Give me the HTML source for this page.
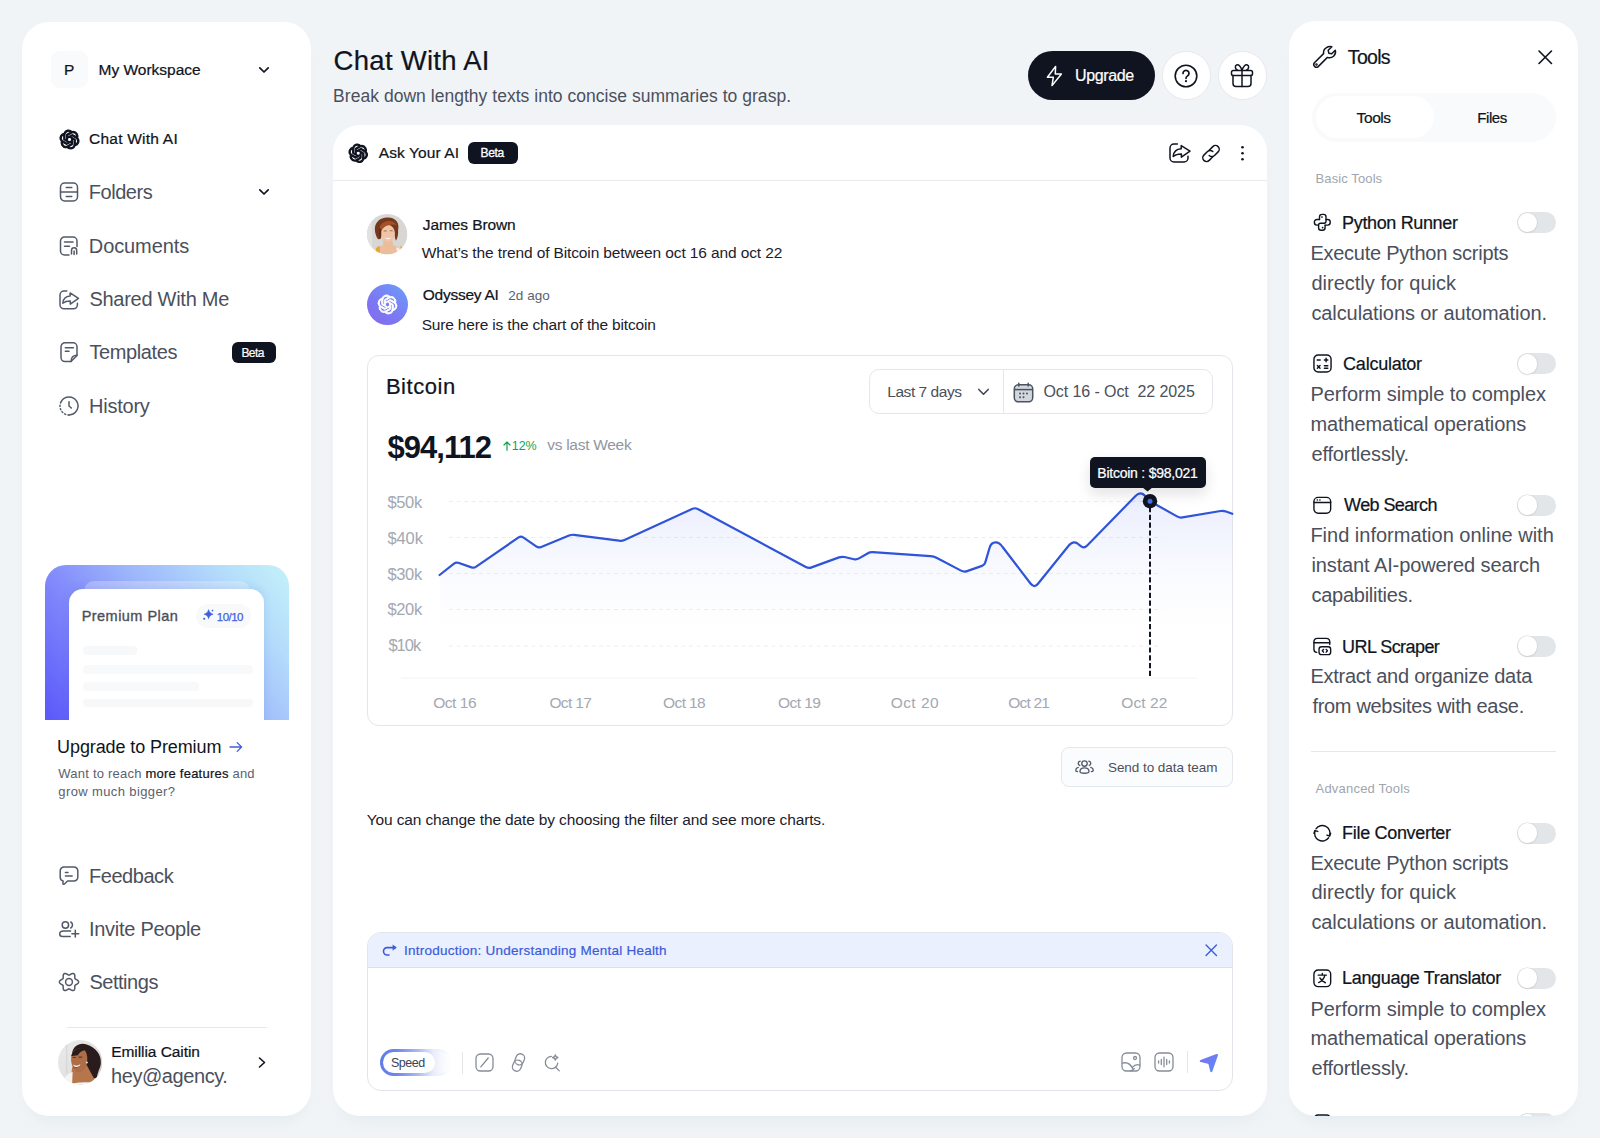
<!DOCTYPE html>
<html lang="en">
<head>
<meta charset="utf-8">
<title>Chat With AI</title>
<style>
*{box-sizing:border-box;margin:0;padding:0}
html,body{width:1600px;height:1138px;overflow:hidden}
body{background:#f1f4f7;font-family:"Liberation Sans",sans-serif;color:#0f1420;position:relative}
.abs{position:absolute}
.t{position:absolute;white-space:nowrap;line-height:1;display:inline-block}
.panel{position:absolute;background:#fff;border-radius:27px;box-shadow:0 12px 16px -8px rgba(170,198,208,.20)}
.g{color:#4b505c}
.m{-webkit-text-stroke:.22px currentColor}
.lg{color:#a3a8b1}
svg{position:absolute;overflow:visible}
.ic{fill:none;stroke:#525a69;stroke-width:1.5;stroke-linecap:round;stroke-linejoin:round}
.icd{fill:none;stroke:#0f1420;stroke-width:1.5;stroke-linecap:round;stroke-linejoin:round}
.badge{position:absolute;background:#0f1420;border-radius:6px}
.tog{position:absolute;width:38.800px;height:21px;border-radius:11px;background:#e3e6e8}
.tog:after{content:"";position:absolute;left:.8px;top:.8px;width:19.400px;height:19.400px;border-radius:50%;background:#fff;box-shadow:0 0 0 .6px #d2d5d9,0 1px 2px rgba(0,0,0,.10)}
</style>
<style id="fit">
#l_p{transform:translate(0.00px,-13.50px);letter-spacing:0.000px}
#l_ws{transform:translate(0.62px,-13.50px);letter-spacing:-0.019px}
#l_chat{transform:translate(0.03px,-13.39px);letter-spacing:0.231px}
#l_fold{transform:translate(-0.20px,-17.39px);letter-spacing:-0.462px}
#l_doc{transform:translate(-0.20px,-16.69px);letter-spacing:-0.094px}
#l_share{transform:translate(0.40px,-16.69px);letter-spacing:-0.267px}
#l_tpl{transform:translate(0.40px,-17.00px);letter-spacing:-0.392px}
#l_beta{transform:translate(-0.10px,-10.00px);letter-spacing:-0.539px}
#l_hist{transform:translate(0.00px,-17.00px);letter-spacing:-0.238px}
#l_pp{transform:translate(0.67px,-12.00px);letter-spacing:0.461px}
#l_1010{transform:translate(-0.18px,-9.50px);letter-spacing:-0.541px}
#l_up{transform:translate(-0.90px,-15.00px);letter-spacing:-0.105px}
#l_want1{transform:translate(0.35px,-11.00px);letter-spacing:0.222px}
#l_want2{transform:translate(0.35px,-10.69px);letter-spacing:0.381px}
#l_fb{transform:translate(0.00px,-17.50px);letter-spacing:-0.452px}
#l_inv{transform:translate(0.00px,-16.80px);letter-spacing:-0.283px}
#l_set{transform:translate(0.40px,-17.39px);letter-spacing:-0.467px}
#l_name{transform:translate(0.22px,-13.00px);letter-spacing:-0.066px}
#l_mail{transform:translate(0.00px,-17.00px);letter-spacing:-0.419px}
#m_title{transform:translate(0.62px,-23.00px);letter-spacing:0.270px}
#m_sub{transform:translate(-0.38px,-14.19px);letter-spacing:0.031px}
#m_upg{transform:translate(0.50px,-13.39px);letter-spacing:-0.354px}
#m_ask{transform:translate(0.82px,-13.39px);letter-spacing:0.089px}
#m_beta{transform:translate(0.60px,-10.39px);letter-spacing:-0.330px}
#c_jb{transform:translate(0.82px,-13.00px);letter-spacing:-0.098px}
#c_q{transform:translate(-0.18px,-12.59px);letter-spacing:-0.122px}
#c_od{transform:translate(0.82px,-12.59px);letter-spacing:-0.259px}
#c_ago{transform:translate(0.32px,-10.59px);letter-spacing:0.036px}
#c_sure{transform:translate(0.63px,-12.59px);letter-spacing:-0.170px}
#c_send{transform:translate(0.43px,-11.19px);letter-spacing:-0.050px}
#c_you{transform:translate(0.82px,-13.19px);letter-spacing:-0.134px}
#h_btc{transform:translate(-1.10px,-18.00px);letter-spacing:0.541px}
#h_price{transform:translate(0.45px,-26.09px);letter-spacing:-0.966px}
#h_pct{transform:translate(-0.22px,-10.39px);letter-spacing:-0.060px}
#h_vs{transform:translate(0.23px,-13.39px);letter-spacing:-0.283px}
#h_l7{transform:translate(0.23px,-13.00px);letter-spacing:-0.448px}
#h_date{transform:translate(0.40px,-13.00px);letter-spacing:-0.078px}
#h_tip{transform:translate(0.30px,-12.00px);letter-spacing:-0.235px}
#y5{transform:translate(0.38px,-14.19px);letter-spacing:-0.324px}
#y4{transform:translate(0.38px,-14.19px);letter-spacing:-0.074px}
#y3{transform:translate(0.38px,-13.59px);letter-spacing:-0.324px}
#y2{transform:translate(0.38px,-14.39px);letter-spacing:-0.324px}
#y1{transform:translate(-0.62px,-14.00px);letter-spacing:-0.949px}
#x16{transform:translate(-0.77px,-13.00px);letter-spacing:-0.477px}
#x17{transform:translate(0.42px,-13.00px);letter-spacing:-0.630px}
#x18{transform:translate(0.03px,-13.00px);letter-spacing:-0.600px}
#x19{transform:translate(0.03px,-13.00px);letter-spacing:-0.554px}
#x20{transform:translate(0.63px,-13.00px);letter-spacing:0.463px}
#x21{transform:translate(0.23px,-13.00px);letter-spacing:-0.784px}
#x22{transform:translate(0.22px,-13.00px);letter-spacing:0.100px}
#i_intro{transform:translate(-0.38px,-11.39px);letter-spacing:0.240px}
#i_speed{transform:translate(-0.03px,-10.50px);letter-spacing:-0.466px}
#r_title{transform:translate(0.83px,-16.39px);letter-spacing:-0.701px}
#r_tab1{transform:translate(0.62px,-12.80px);letter-spacing:-0.428px}
#r_tab2{transform:translate(0.25px,-12.80px);letter-spacing:-0.414px}
#r_basic{transform:translate(-0.45px,-11.09px);letter-spacing:0.106px}
#r_adv{transform:translate(-0.45px,-11.39px);letter-spacing:0.205px}
#r_py{transform:translate(-0.40px,-14.80px);letter-spacing:-0.357px}
#r_py0{transform:translate(-0.60px,-17.00px);letter-spacing:-0.249px}
#r_py1{transform:translate(0.40px,-16.80px);letter-spacing:0.010px}
#r_py2{transform:translate(0.40px,-16.69px);letter-spacing:-0.087px}
#r_ca{transform:translate(0.60px,-14.59px);letter-spacing:-0.228px}
#r_ca0{transform:translate(-0.60px,-17.00px);letter-spacing:-0.047px}
#r_ca1{transform:translate(-0.60px,-16.89px);letter-spacing:-0.092px}
#r_ca2{transform:translate(0.40px,-17.50px);letter-spacing:-0.136px}
#r_ws{transform:translate(1.60px,-14.89px);letter-spacing:-0.601px}
#r_ws0{transform:translate(-0.60px,-16.89px);letter-spacing:-0.003px}
#r_ws1{transform:translate(0.40px,-17.19px);letter-spacing:-0.108px}
#r_ws2{transform:translate(0.40px,-17.00px);letter-spacing:-0.247px}
#r_ur{transform:translate(-0.40px,-15.50px);letter-spacing:-0.560px}
#r_ur0{transform:translate(-0.60px,-17.19px);letter-spacing:-0.248px}
#r_ur1{transform:translate(1.40px,-16.69px);letter-spacing:-0.311px}
#r_fc{transform:translate(-0.40px,-14.69px);letter-spacing:-0.314px}
#r_fc0{transform:translate(-0.60px,-16.80px);letter-spacing:-0.249px}
#r_fc1{transform:translate(0.40px,-17.19px);letter-spacing:0.010px}
#r_fc2{transform:translate(0.40px,-16.89px);letter-spacing:-0.087px}
#r_lt{transform:translate(-0.40px,-15.39px);letter-spacing:-0.337px}
#r_lt0{transform:translate(-0.60px,-16.69px);letter-spacing:-0.047px}
#r_lt1{transform:translate(-0.60px,-17.39px);letter-spacing:-0.092px}
#r_lt2{transform:translate(0.40px,-17.19px);letter-spacing:-0.136px}
</style>
</head>
<body>
<!-- ===== LEFT SIDEBAR ===== -->
<div class="panel" id="left" style="left:22px;top:22px;width:289px;height:1094px"></div>
<div class="abs" style="left:51px;top:51px;width:37px;height:37px;border-radius:9px;background:#f8fafc"></div>
<span class="t m" id="l_p" style="left:64px;top:74.5px;font-size:15.5px">P</span>
<span class="t m" id="l_ws" style="left:98px;top:74.5px;font-size:15.5px">My Workspace</span>
<svg style="left:258.200px;top:63.800px" width="12" height="12" viewBox="0 0 12 12"><path d="M1.8 3.8 L6 8 L10.2 3.8" fill="none" stroke="#0f1420" stroke-width="1.7" stroke-linecap="round" stroke-linejoin="round"/></svg>

<!-- nav -->
<svg id="ic_ai" style="left:59.500px;top:129.500px" width="19" height="19" viewBox="0 0 24 24" fill="#0f1420" stroke="#0f1420" stroke-width="1.500" stroke-linejoin="round"><path d="M22.2819 9.8211a5.9847 5.9847 0 0 0-.5157-4.9108 6.0462 6.0462 0 0 0-6.5098-2.9A6.0651 6.0651 0 0 0 4.9807 4.1818a5.9847 5.9847 0 0 0-3.9977 2.9 6.0462 6.0462 0 0 0 .7427 7.0966 5.98 5.98 0 0 0 .511 4.9107 6.051 6.051 0 0 0 6.5146 2.9001A5.9847 5.9847 0 0 0 13.2599 24a6.0557 6.0557 0 0 0 5.7718-4.2058 5.9894 5.9894 0 0 0 3.9977-2.9001 6.0557 6.0557 0 0 0-.7475-7.0729zm-9.022 12.6081a4.4755 4.4755 0 0 1-2.8764-1.0408l.1419-.0804 4.7783-2.7582a.7948.7948 0 0 0 .3927-.6813v-6.7369l2.02 1.1686a.071.071 0 0 1 .038.052v5.5826a4.504 4.504 0 0 1-4.4945 4.4944zm-9.6607-4.1254a4.4708 4.4708 0 0 1-.5346-3.0137l.142.0852 4.783 2.7582a.7712.7712 0 0 0 .7806 0l5.8428-3.3685v2.3324a.0804.0804 0 0 1-.0332.0615L9.74 19.9502a4.4992 4.4992 0 0 1-6.1408-1.6464zM2.3408 7.8956a4.485 4.485 0 0 1 2.3655-1.9728V11.6a.7664.7664 0 0 0 .3879.6765l5.8144 3.3543-2.0201 1.1685a.0757.0757 0 0 1-.071 0l-4.8303-2.7865A4.504 4.504 0 0 1 2.3408 7.872zm16.5963 3.8558L13.1038 8.364 15.1192 7.2a.0757.0757 0 0 1 .071 0l4.8303 2.7913a4.4944 4.4944 0 0 1-.6765 8.1042v-5.6772a.79.79 0 0 0-.407-.667zm2.0107-3.0231l-.142-.0852-4.7735-2.7818a.7759.7759 0 0 0-.7854 0L9.409 9.2297V6.8974a.0662.0662 0 0 1 .0284-.0615l4.8303-2.7866a4.4992 4.4992 0 0 1 6.6802 4.66zM8.3065 12.863l-2.02-1.1638a.0804.0804 0 0 1-.038-.0567V6.0742a4.4992 4.4992 0 0 1 7.3757-3.4537l-.142.0805L8.704 5.459a.7948.7948 0 0 0-.3927.6813zm1.0976-2.3654l2.602-1.4998 2.6069 1.4998v2.9994l-2.5974 1.4997-2.6067-1.4997Z"/></svg>
<span class="t m" id="l_chat" style="left:89px;top:144.4px;font-size:15.5px">Chat With AI</span>

<svg id="ic_fold" style="left:59px;top:182px" width="20" height="20" viewBox="0 0 20 20" class="ic"><rect x="1.5" y="1" width="17" height="18" rx="4.2"/><path d="M1.5 10H18.5M7.2 5.6H12.8M7.2 14.6H12.8"/></svg>
<span class="t g" id="l_fold" style="left:89px;top:199.4px;font-size:20px">Folders</span>
<svg style="left:258px;top:186px" width="12" height="12" viewBox="0 0 12 12"><path d="M1.8 3.8 L6 8 L10.2 3.8" fill="none" stroke="#0f1420" stroke-width="1.7" stroke-linecap="round" stroke-linejoin="round"/></svg>

<svg id="ic_doc" style="left:59px;top:235.5px" width="20" height="20" viewBox="0 0 20 20" class="ic"><path d="M10 19H5.5a4 4 0 0 1-4-4V5a4 4 0 0 1 4-4h8.5a4 4 0 0 1 4 4v5.5"/><path d="M5.5 6H14M5.5 10.2H10.5"/><path d="M12.5 18v-3.6a2.6 2.6 0 0 1 5.2 0V18M15.1 18.6v-3.6"/></svg>
<span class="t g" id="l_doc" style="left:89px;top:252.7px;font-size:20px">Documents</span>

<svg id="ic_share" style="left:59px;top:289.5px" width="20" height="20" viewBox="0 0 20 20" class="ic"><path d="M7.800 1H5a4 4 0 0 0-4 4v9.800a4 4 0 0 0 4 4h9.400a4 4 0 0 0 4-4v-1.600"/><path d="M11.100 2.900 L19.500 8.300 L11.300 14.100 V10.900 C8 10.900 5.600 11.600 3.800 13.200 C4.200 8.700 7 6.200 11.100 6 Z"/></svg>
<span class="t g" id="l_share" style="left:89px;top:305.7px;font-size:20px">Shared With Me</span>

<svg id="ic_tpl" style="left:59px;top:342px" width="20" height="20" viewBox="0 0 20 20" class="ic"><path d="M6 .8h8a4 4 0 0 1 4 4v8.600L12 19.600H6a4 4 0 0 1-4-4V4.800a4 4 0 0 1 4-4z"/><path d="M18 13.200c-3.600 0-5.800 1.800-6 6.200"/><path d="M6.300 5.700H14.400M6.300 9.300H10"/></svg>
<span class="t g" id="l_tpl" style="left:89px;top:359px;font-size:20px">Templates</span>
<div class="badge" style="left:232px;top:341.5px;width:43.5px;height:21.5px"></div>
<span class="t" id="l_beta" style="left:241.5px;top:357px;font-size:12px;color:#fff;-webkit-text-stroke:.2px #fff">Beta</span>

<svg id="ic_hist" style="left:59px;top:396px" width="20" height="20" viewBox="0 0 20 20" class="ic"><path d="M2.200 5.500A9 9 0 1 1 10 19"/><path d="M10 19A9 9 0 0 1 2.200 5.500" stroke-dasharray="1.100 2.300"/><path d="M10 5.800V10l2.300 2"/></svg>
<span class="t g" id="l_hist" style="left:89px;top:413px;font-size:20px">History</span>
<!-- premium card -->
<div class="abs" id="prem" style="left:44.5px;top:564.5px;width:244.5px;height:155.5px;border-radius:21px 21px 0 0;overflow:hidden;background:linear-gradient(52deg,#5a58fa 0%,#7f86fb 30%,#9db6fb 55%,#b4dcfb 80%,#c4f2fa 100%)">
  <div class="abs" style="left:39px;top:16.5px;width:166px;height:30px;border-radius:10px 10px 0 0;background:rgba(255,255,255,.28)"></div>
  <div class="abs" style="left:24.5px;top:24.5px;width:194.5px;height:140px;border-radius:14px 14px 0 0;background:#fff;box-shadow:0 -2px 8px rgba(60,70,160,.12)"></div>
  <div class="abs" style="left:151.5px;top:39px;width:55px;height:24.5px;border-radius:12.5px;background:#f8f9fb"></div>
  <div class="abs" style="left:38px;top:81.5px;width:54px;height:8.5px;border-radius:4px;background:#f7f8fa"></div>
  <div class="abs" style="left:38px;top:100px;width:170px;height:9px;border-radius:4px;background:#f8f9fb"></div>
  <div class="abs" style="left:38px;top:117px;width:116px;height:9px;border-radius:4px;background:#f8f9fb"></div>
  <div class="abs" style="left:38px;top:134px;width:170px;height:8.5px;border-radius:4px;background:#f7f8fa"></div>
</div>
<span class="t" id="l_pp" style="left:81px;top:621px;font-size:14.500px;color:#4a4f5a;-webkit-text-stroke:.35px #4a4f5a">Premium Plan</span>
<svg style="left:202px;top:609.300px" width="12" height="12" viewBox="0 0 12 12" fill="#3f5fe0"><path d="M6.600 .6C7.400 3.400 8.400 4.400 11.200 5.200 8.400 6 7.400 7 6.600 9.800 5.800 7 4.800 6 2 5.200 4.800 4.400 5.800 3.400 6.600 .6Z" stroke="#3f5fe0" stroke-width=".5" stroke-linejoin="round"/><circle cx="2.200" cy="9.800" r="1.050"/><path d="M10.500 .6v2M9.500 1.600h2" stroke="#3f5fe0" stroke-width=".7"/></svg>
<span class="t" id="l_1010" style="left:217px;top:620.5px;font-size:11.500px;color:#3f5fe0;-webkit-text-stroke:.25px #3f5fe0">10/10</span>

<span class="t" id="l_up" style="left:58px;top:753px;font-size:18px">Upgrade to Premium</span>
<svg style="left:229px;top:741px" width="14" height="12" viewBox="0 0 14 12"><path d="M1 6H12.6M8.2 1.6 L12.6 6 L8.2 10.4" fill="none" stroke="#3f5fe0" stroke-width="1.3" stroke-linecap="round" stroke-linejoin="round"/></svg>
<span class="t" id="l_want1" style="left:58px;top:778px;font-size:13px;color:#5b616e">Want to reach <span style="color:#0f1420;-webkit-text-stroke:.2px #0f1420">more features</span> and</span>
<span class="t" id="l_want2" style="left:58px;top:795.7px;font-size:13px;color:#5b616e">grow much bigger?</span>

<!-- bottom nav -->
<svg id="ic_fb" style="left:59px;top:866px" width="20" height="20" viewBox="0 0 20 20" class="ic"><path d="M5 1h10a3.8 3.8 0 0 1 3.8 3.8v6.4A3.8 3.8 0 0 1 15 15H8.6L5.4 18c-.8.7-1.6.3-1.5-.7l.2-2.4A3.8 3.8 0 0 1 1.200 11.200V4.800A3.800 3.800 0 0 1 5 1z"/><path d="M6.400 6.400H9M6.400 10H13.200"/></svg>
<span class="t g" id="l_fb" style="left:89px;top:882.5px;font-size:20px">Feedback</span>

<svg id="ic_inv" style="left:59px;top:920px" width="20" height="18" viewBox="0 0 20 18" class="ic"><circle cx="6.400" cy="5" r="3.200"/><path d="M11.800 2a3.500 3.500 0 0 1 0 6"/><path d="M11.600 11H4.500C1.600 11 .7 12.600 .7 14c0 1.600 1.200 2.500 2.900 2.500H11.200"/><path d="M16.300 10.300V17.100M12.900 13.700H19.700"/></svg>
<span class="t g" id="l_inv" style="left:89px;top:935.8px;font-size:20px">Invite People</span>

<svg id="ic_set" style="left:58.800px;top:972.300px" width="20" height="20" viewBox="0 0 20 20" class="ic"><path d="M19.60 10.00 L19.48 10.62 L19.13 11.20 L18.60 11.71 L17.97 12.14 L17.32 12.49 L16.74 12.79 L16.28 13.10 L15.98 13.45 L15.82 13.89 L15.79 14.44 L15.81 15.10 L15.83 15.83 L15.78 16.59 L15.60 17.30 L15.28 17.90 L14.80 18.31 L14.20 18.52 L13.52 18.50 L12.82 18.30 L12.14 17.97 L11.51 17.58 L10.95 17.23 L10.46 16.99 L10.00 16.90 L9.54 16.99 L9.05 17.23 L8.49 17.58 L7.86 17.97 L7.18 18.30 L6.48 18.50 L5.80 18.52 L5.20 18.31 L4.72 17.90 L4.40 17.30 L4.22 16.59 L4.17 15.83 L4.19 15.10 L4.21 14.44 L4.18 13.89 L4.02 13.45 L3.72 13.10 L3.26 12.79 L2.68 12.49 L2.03 12.14 L1.40 11.71 L0.87 11.20 L0.52 10.62 L0.40 10.00 L0.52 9.38 L0.87 8.80 L1.40 8.29 L2.03 7.86 L2.68 7.51 L3.26 7.21 L3.72 6.90 L4.02 6.55 L4.18 6.11 L4.21 5.56 L4.19 4.90 L4.17 4.17 L4.22 3.41 L4.40 2.70 L4.72 2.10 L5.20 1.69 L5.80 1.48 L6.48 1.50 L7.18 1.70 L7.86 2.03 L8.49 2.42 L9.05 2.77 L9.54 3.01 L10.00 3.10 L10.46 3.01 L10.95 2.77 L11.51 2.42 L12.14 2.03 L12.82 1.70 L13.52 1.50 L14.20 1.48 L14.80 1.69 L15.28 2.10 L15.60 2.70 L15.78 3.41 L15.83 4.17 L15.81 4.90 L15.79 5.56 L15.82 6.11 L15.98 6.55 L16.28 6.90 L16.74 7.21 L17.32 7.51 L17.97 7.86 L18.60 8.29 L19.13 8.80 L19.48 9.38Z"/><circle cx="10" cy="10" r="3.400"/></svg>
<span class="t g" id="l_set" style="left:89px;top:989.4px;font-size:20px">Settings</span>

<div class="abs" style="left:66.800px;top:1027px;width:200px;height:1px;background:#e5e7eb"></div>
<!-- avatar Emillia -->
<svg style="left:57.800px;top:1040.300px" width="44.400" height="44.400" viewBox="0 0 44 44"><defs><clipPath id="cpE"><circle cx="22" cy="22" r="22"/></clipPath><linearGradient id="gE" x1="0" y1="0" x2="1" y2="1"><stop offset="0" stop-color="#ecebea"/><stop offset=".5" stop-color="#e3e2e2"/><stop offset="1" stop-color="#c4c4c5"/></linearGradient><filter id="bl2" x="-10%" y="-10%" width="120%" height="120%"><feGaussianBlur stdDeviation=".6"/></filter></defs><g clip-path="url(#cpE)"><rect width="44" height="44" fill="url(#gE)"/><rect x="8" y="3" width="1.200" height="30" fill="#d6d6d6"/><g filter="url(#bl2)"><path d="M14 13C15 5.500 22 2 28.500 4.500c9 3 14.500 10 14 18.500-.3 5-4 9-3.500 14.500-4 1.500-8 0-10-3L22 20z" fill="#2a1f1d"/><path d="M14 27l14-3 6.500 12c1.500 2 2 5 2 8H12z" fill="#b6764b"/><path d="M5 44c.5-6 3.500-10 9.500-12.500L14 44zM13 44c4-2 16-2.500 24-1.500V44z" fill="#f5f4f2"/><path d="M13 19c0-6 3.500-10.500 8.500-10.500 5 0 7.500 4 7.500 10 0 6.500-3 13-8 13.300-4.500.2-8-6-8-12.800z" fill="#ad6d47"/><path d="M13 16c2-7 9-10 16-6.500-4 .5-7.500 2.500-9.500 5.500-2.500.5-4.700.5-6.500 1z" fill="#2a1f1d"/><path d="M14.800 24.300c2 1.600 5.200 1.600 7.400-.4-.6 3.600-6.200 4-7.400.4z" fill="#fff"/><path d="M14.600 26.200c2 1.200 4.600 1 6.400-.4-1 2.600-5.200 2.800-6.400.4z" fill="#9c4a40"/><circle cx="28.600" cy="22.300" r="1" fill="#dfe6d8"/><path d="M14.500 17.300h3M20.500 17h3.500" stroke="#3a2a24" stroke-width=".9"/></g></g></svg>
<span class="t m" id="l_name" style="left:111px;top:1057px;font-size:15.500px">Emillia Caitin</span>
<span class="t g" id="l_mail" style="left:111px;top:1083px;font-size:20px">hey@agency.</span>
<svg style="left:257px;top:1056px" width="10" height="13" viewBox="0 0 10 13"><path d="M2.500 2 L7.500 6.500 L2.500 11" fill="none" stroke="#0f1420" stroke-width="1.600" stroke-linecap="round" stroke-linejoin="round"/></svg>


<!-- ===== MAIN ===== -->
<div class="panel" id="main" style="left:333px;top:125px;width:934px;height:991px"></div>
<span class="t m" id="m_title" style="left:333px;top:70px;font-size:27.5px">Chat With AI</span>
<span class="t g" id="m_sub" style="left:333.5px;top:102.2px;font-size:17.5px">Break down lengthy texts into concise summaries to grasp.</span>
<div class="abs" style="left:1028px;top:51px;width:127px;height:49px;border-radius:25px;background:#0f1420"></div>
<svg style="left:1045px;top:64.500px" width="19" height="22" viewBox="0 0 19 22"><path d="M10.600 1.400 L2.400 12.300 H8.300 L7 20.600 L16.400 9 H10.300 Z" fill="none" stroke="#fff" stroke-width="1.500" stroke-linejoin="round"/></svg>
<span class="t m" id="m_upg" style="left:1074.500px;top:81.400px;font-size:16px;color:#fff">Upgrade</span>
<div class="abs" style="left:1162.300px;top:51.200px;width:48.400px;height:48.400px;border-radius:50%;background:#fff;border:1px solid #e7e9ec"></div>
<svg style="left:1174px;top:63.500px" width="24" height="24" viewBox="0 0 24 24"><circle cx="12" cy="12" r="10.800" fill="none" stroke="#0f1420" stroke-width="1.600"/><path d="M9 9.400a3 3 0 1 1 4.600 2.500c-1 .7-1.600 1.200-1.600 2.400" fill="none" stroke="#0f1420" stroke-width="1.700" stroke-linecap="round"/><circle cx="12" cy="17.200" r="1.100" fill="#0f1420"/></svg>
<div class="abs" style="left:1218.300px;top:51.200px;width:48.400px;height:48.400px;border-radius:50%;background:#fff;border:1px solid #e7e9ec"></div>
<svg style="left:1230px;top:63px" width="24" height="25" viewBox="0 0 24 25" class="icd" stroke-width="1.700"><path d="M3 12.500v8a3 3 0 0 0 3 3h12a3 3 0 0 0 3-3v-8"/><rect x="1.500" y="7.500" width="21" height="5" rx="1.800"/><path d="M12 7.500v16"/><path d="M12 7.300C10.500 3.500 8.500 1.300 6.600 2c-2 .8-1.500 4.200 1 5.300M12 7.300c1.500-3.800 3.500-6 5.400-5.300 2 .8 1.500 4.200-1 5.300"/></svg>

<!-- chat card header -->
<svg id="ic_ai2" style="left:348.500px;top:143.800px" width="18.500" height="18.500" viewBox="0 0 24 24" fill="#0f1420" stroke="#0f1420" stroke-width="1.500" stroke-linejoin="round"><path d="M22.2819 9.8211a5.9847 5.9847 0 0 0-.5157-4.9108 6.0462 6.0462 0 0 0-6.5098-2.9A6.0651 6.0651 0 0 0 4.9807 4.1818a5.9847 5.9847 0 0 0-3.9977 2.9 6.0462 6.0462 0 0 0 .7427 7.0966 5.98 5.98 0 0 0 .511 4.9107 6.051 6.051 0 0 0 6.5146 2.9001A5.9847 5.9847 0 0 0 13.2599 24a6.0557 6.0557 0 0 0 5.7718-4.2058 5.9894 5.9894 0 0 0 3.9977-2.9001 6.0557 6.0557 0 0 0-.7475-7.0729zm-9.022 12.6081a4.4755 4.4755 0 0 1-2.8764-1.0408l.1419-.0804 4.7783-2.7582a.7948.7948 0 0 0 .3927-.6813v-6.7369l2.02 1.1686a.071.071 0 0 1 .038.052v5.5826a4.504 4.504 0 0 1-4.4945 4.4944zm-9.6607-4.1254a4.4708 4.4708 0 0 1-.5346-3.0137l.142.0852 4.783 2.7582a.7712.7712 0 0 0 .7806 0l5.8428-3.3685v2.3324a.0804.0804 0 0 1-.0332.0615L9.74 19.9502a4.4992 4.4992 0 0 1-6.1408-1.6464zM2.3408 7.8956a4.485 4.485 0 0 1 2.3655-1.9728V11.6a.7664.7664 0 0 0 .3879.6765l5.8144 3.3543-2.0201 1.1685a.0757.0757 0 0 1-.071 0l-4.8303-2.7865A4.504 4.504 0 0 1 2.3408 7.872zm16.5963 3.8558L13.1038 8.364 15.1192 7.2a.0757.0757 0 0 1 .071 0l4.8303 2.7913a4.4944 4.4944 0 0 1-.6765 8.1042v-5.6772a.79.79 0 0 0-.407-.667zm2.0107-3.0231l-.142-.0852-4.7735-2.7818a.7759.7759 0 0 0-.7854 0L9.409 9.2297V6.8974a.0662.0662 0 0 1 .0284-.0615l4.8303-2.7866a4.4992 4.4992 0 0 1 6.6802 4.66zM8.3065 12.863l-2.02-1.1638a.0804.0804 0 0 1-.038-.0567V6.0742a4.4992 4.4992 0 0 1 7.3757-3.4537l-.142.0805L8.704 5.459a.7948.7948 0 0 0-.3927.6813zm1.0976-2.3654l2.602-1.4998 2.6069 1.4998v2.9994l-2.5974 1.4997-2.6067-1.4997Z"/></svg>
<span class="t m" id="m_ask" style="left:378px;top:158.400px;font-size:15.500px">Ask Your AI</span>
<div class="badge" style="left:468px;top:142px;width:49.500px;height:22px"></div>
<span class="t" id="m_beta" style="left:480px;top:157.400px;font-size:12px;color:#fff;-webkit-text-stroke:.3px #fff">Beta</span>
<div class="abs" style="left:333px;top:180px;width:934px;height:1px;background:#e8eaee"></div>
<svg style="left:1169px;top:143px" width="22" height="20" viewBox="0 0 22 20" class="icd" stroke-width="1.600"><path d="M8.400 1H5a4 4 0 0 0-4 4v10a4 4 0 0 0 4 4h10a4 4 0 0 0 4-4v-1.800"/><path d="M12.200 2.600 L21 8.200 L12.400 14.200 V10.900 C8.800 10.900 6.200 11.700 4.200 13.400 C4.700 8.700 7.800 6 12.200 5.800 Z"/></svg>
<svg style="left:1201px;top:143.500px" width="20" height="19" viewBox="0 0 20 19" class="icd" stroke-width="1.600"><path d="M8.200 6.200 L11.800 2.600a3.700 3.700 0 0 1 5.300 5.300L13.500 11.500a3.700 3.700 0 0 1-5.300 0"/><path d="M11.800 12.800 L8.200 16.400a3.700 3.700 0 0 1-5.300-5.300L6.500 7.500a3.700 3.700 0 0 1 5.300 0"/></svg>
<svg style="left:1240px;top:145px" width="5" height="17" viewBox="0 0 5 17"><circle cx="2.500" cy="2.300" r="1.300" fill="#0f1420"/><circle cx="2.500" cy="8.300" r="1.300" fill="#0f1420"/><circle cx="2.500" cy="14.300" r="1.300" fill="#0f1420"/></svg>

<!-- user avatar -->
<svg style="left:367.200px;top:213.500px" width="40.400" height="40.400" viewBox="0 0 40 40"><defs><clipPath id="cpJ"><circle cx="20" cy="20" r="20"/></clipPath><filter id="bl" x="-10%" y="-10%" width="120%" height="120%"><feGaussianBlur stdDeviation=".55"/></filter></defs><g clip-path="url(#cpJ)"><rect width="40" height="40" fill="#d8d7d5"/><rect x="0" y="0" width="5" height="40" fill="#e2e1df"/><g filter="url(#bl)"><path d="M16 25h9l1 6c4 1 8 3 10 9H8c1-5 4-8 8-9z" fill="#ecbd9d"/><path d="M9 34c1-1 2-2 3.500-2.500L13 40H8zM32.500 31.500l2.500 1.200-1 2.300z" fill="#e2a832"/><path d="M29 33c3 1 6 3 7 7h-6z" fill="#f5f2ed"/><path d="M8 17.500C6.500 8 13.500 3 21 3.500c7.500.3 11.500 5.500 9.800 12.500.3 4-.5 8-2.300 10.500L27 20c-2-6-7-8-12.500-6l-1 10c-2.500 3-4.500-1.500-5.500-6.500z" fill="#74371a"/><ellipse cx="20.700" cy="19.200" rx="7" ry="8.400" fill="#efc4a7"/><path d="M12.500 13C15 6.500 25 4 30 11.500c-3.500-2-9-1.500-13 1.500-1.500 1.200-2.500 2.500-3 4.500z" fill="#a4512a"/><path d="M12.800 14c-1.500 4-1 8 .8 11 .8-3 .6-7 .2-10z" fill="#5f2c14"/><path d="M18 23.300c1.800 1 4 1 5.800-.2-.8 2.400-5 2.600-5.800.2z" fill="#fff"/><path d="M16.500 16.800h3M22.500 16.600h3" stroke="#7a4a35" stroke-width=".7"/></g></g></svg>
<span class="t m" id="c_jb" style="left:422px;top:230px;font-size:15.500px">James Brown</span>
<span class="t" id="c_q" style="left:422px;top:257.600px;font-size:15.500px;color:#1c212c">What’s the trend of Bitcoin between oct 16 and oct 22</span>
<!-- AI avatar -->
<div class="abs" style="left:366.500px;top:283.500px;width:41.500px;height:41.500px;border-radius:50%;background:linear-gradient(40deg,#8468ee 0%,#7b7af3 45%,#6b9ff9 100%)"></div>
<svg style="left:378px;top:294.800px" width="19" height="19" viewBox="0 0 24 24"><path fill="#fff" stroke="#fff" stroke-width="1.200" stroke-linejoin="round" d="M22.2819 9.8211a5.9847 5.9847 0 0 0-.5157-4.9108 6.0462 6.0462 0 0 0-6.5098-2.9A6.0651 6.0651 0 0 0 4.9807 4.1818a5.9847 5.9847 0 0 0-3.9977 2.9 6.0462 6.0462 0 0 0 .7427 7.0966 5.98 5.98 0 0 0 .511 4.9107 6.051 6.051 0 0 0 6.5146 2.9001A5.9847 5.9847 0 0 0 13.2599 24a6.0557 6.0557 0 0 0 5.7718-4.2058 5.9894 5.9894 0 0 0 3.9977-2.9001 6.0557 6.0557 0 0 0-.7475-7.0729zm-9.022 12.6081a4.4755 4.4755 0 0 1-2.8764-1.0408l.1419-.0804 4.7783-2.7582a.7948.7948 0 0 0 .3927-.6813v-6.7369l2.02 1.1686a.071.071 0 0 1 .038.052v5.5826a4.504 4.504 0 0 1-4.4945 4.4944zm-9.6607-4.1254a4.4708 4.4708 0 0 1-.5346-3.0137l.142.0852 4.783 2.7582a.7712.7712 0 0 0 .7806 0l5.8428-3.3685v2.3324a.0804.0804 0 0 1-.0332.0615L9.74 19.9502a4.4992 4.4992 0 0 1-6.1408-1.6464zM2.3408 7.8956a4.485 4.485 0 0 1 2.3655-1.9728V11.6a.7664.7664 0 0 0 .3879.6765l5.8144 3.3543-2.0201 1.1685a.0757.0757 0 0 1-.071 0l-4.8303-2.7865A4.504 4.504 0 0 1 2.3408 7.872zm16.5963 3.8558L13.1038 8.364 15.1192 7.2a.0757.0757 0 0 1 .071 0l4.8303 2.7913a4.4944 4.4944 0 0 1-.6765 8.1042v-5.6772a.79.79 0 0 0-.407-.667zm2.0107-3.0231l-.142-.0852-4.7735-2.7818a.7759.7759 0 0 0-.7854 0L9.409 9.2297V6.8974a.0662.0662 0 0 1 .0284-.0615l4.8303-2.7866a4.4992 4.4992 0 0 1 6.6802 4.66zM8.3065 12.863l-2.02-1.1638a.0804.0804 0 0 1-.038-.0567V6.0742a4.4992 4.4992 0 0 1 7.3757-3.4537l-.142.0805L8.704 5.459a.7948.7948 0 0 0-.3927.6813zm1.0976-2.3654l2.602-1.4998 2.6069 1.4998v2.9994l-2.5974 1.4997-2.6067-1.4997Z"/></svg>
<span class="t m" id="c_od" style="left:422px;top:299.600px;font-size:15.500px">Odyssey AI</span>
<span class="t" id="c_ago" style="left:508px;top:299.600px;font-size:13.500px;color:#5b616e">2d ago</span>
<span class="t" id="c_sure" style="left:421px;top:329.600px;font-size:15.500px;color:#1c212c">Sure here is the chart of the bitcoin</span>

<!-- send to data team -->
<div class="abs" style="left:1061px;top:747px;width:172px;height:40px;border-radius:8px;border:1px solid #e4e7eb;background:#fbfcfd"></div>
<svg style="left:1074.800px;top:759px" width="19" height="15.400" viewBox="0 0 21 17" class="ic" stroke-width="1.300"><circle cx="10.500" cy="5" r="3"/><path d="M5.500 13.800c0-2.600 2.200-4 5-4s5 1.400 5 4c0 1.300-2.200 2-5 2s-5-.7-5-2z"/><path d="M5.700 2.300a2.500 2.500 0 0 0-.5 4.800M3.600 9.300C1.800 9.900.8 11 .8 12.300c0 .8.700 1.400 2 1.700M15.300 2.300a2.500 2.500 0 0 1 .5 4.800M17.400 9.300c1.800.6 2.800 1.700 2.800 3 0 .8-.7 1.400-2 1.700"/></svg>
<span class="t g" id="c_send" style="left:1107.500px;top:772.200px;font-size:13.500px">Send to data team</span>
<span class="t" id="c_you" style="left:366px;top:825.200px;font-size:15.500px;color:#1c212c">You can change the date by choosing the filter and see more charts.</span>

<div class="abs" style="left:366.500px;top:355px;width:866.500px;height:371px;border-radius:12px;border:1px solid #e3e6ea;background:#fff"></div>
<span class="t m" id="h_btc" style="left:387px;top:394px;font-size:22px">Bitcoin</span>
<span class="t" id="h_price" style="left:387px;top:458.100px;font-size:31px;font-weight:bold">$94,112</span>
<svg style="left:502.500px;top:440.500px" width="8" height="10" viewBox="0 0 8 10"><path d="M4 9.300V1.200M1 4 L4 1 L7 4" fill="none" stroke="#16a34a" stroke-width="1.200" stroke-linecap="round" stroke-linejoin="round"/></svg>
<span class="t" id="h_pct" style="left:512px;top:450.400px;font-size:12.500px;color:#16a34a">12%</span>
<span class="t" id="h_vs" style="left:547px;top:450.400px;font-size:15.500px;color:#9096a0">vs last Week</span>
<!-- filter -->
<div class="abs" style="left:869px;top:369px;width:344px;height:45px;border-radius:10px;border:1px solid #e4e7eb;background:#fff"></div>
<div class="abs" style="left:1003px;top:370px;width:1px;height:43px;background:#e4e7eb"></div>
<span class="t g" id="h_l7" style="left:887px;top:397px;font-size:15.500px">Last 7 days</span>
<svg style="left:977px;top:386px" width="13" height="12" viewBox="0 0 13 12"><path d="M1.800 3.400 L6.500 8.200 L11.200 3.400" fill="none" stroke="#3c4350" stroke-width="1.500" stroke-linecap="round" stroke-linejoin="round"/></svg>
<svg style="left:1013px;top:381.500px" width="21" height="21" viewBox="0 0 21 21"><rect x="1.300" y="2.800" width="18.400" height="17" rx="4" fill="#d3d6dc" stroke="#4b5362" stroke-width="1.500"/><path d="M1.500 7.600H19.500" stroke="#4b5362" stroke-width="1.500"/><path d="M5.800 1.200V4M15.200 1.200V4" stroke="#4b5362" stroke-width="1.500" stroke-linecap="round"/><g fill="#4b5362"><circle cx="7" cy="11.500" r="1"/><circle cx="10.500" cy="11.500" r="1"/><circle cx="14" cy="11.500" r="1"/><circle cx="7" cy="15.200" r="1"/><circle cx="10.500" cy="15.200" r="1"/></g></svg>
<span class="t g" id="h_date" style="left:1043px;top:397px;font-size:16px;white-space:pre">Oct 16 - Oct  22 2025</span>

<!-- plot -->
<svg style="left:367px;top:450px" width="866" height="275" viewBox="367 450 866 275">
<defs><linearGradient id="ga" x1="0" y1="0" x2="0" y2="1"><stop offset="0" stop-color="#4a6cf0" stop-opacity=".125"/><stop offset=".38" stop-color="#6d86f3" stop-opacity=".05"/><stop offset=".72" stop-color="#8ea0f5" stop-opacity="0"/></linearGradient></defs>
<g stroke="#eceef1" stroke-width="1" stroke-dasharray="4 3.500"><path d="M449 501.500H1162M449 537.500H1162M449 573.500H1162M449 609.500H1162M449 646H1162"/></g>
<path d="M401 678H1197" stroke="#f2f3f5" stroke-width="1"/>
<path id="area" fill="url(#ga)" d="M439.600 575 L454 563.600 Q456 562 458.200 562.800 L471.500 567.400 Q474 568.200 476.200 566.600 L518.600 537.400 Q521 535.700 523.200 537.300 L536.200 546.300 Q538.600 548 541.200 546.900 L569 535.500 Q571.500 534.500 574 534.800 L619 540.700 Q622 541.100 625 539.700 L692.500 508.800 Q695.200 507.600 697.800 509 L805.800 567 Q808.700 568.500 811.600 567.400 L839 557.400 Q841.800 556.400 844.500 557 L854 559.200 Q856.700 559.800 859 558.400 L867.500 553.500 Q870 552 872.800 552.200 L930.500 556.100 Q933.800 556.300 936.500 557.800 L961 570.600 Q964 572.200 967 571.100 L982 565.900 Q984.600 565 985.300 562.400 L989.500 548 Q991.200 542.300 995.600 542.400 Q999.500 542.500 1002.600 547 L1030.500 583.500 Q1034.400 588.600 1038.200 583.500 L1068.800 545.500 Q1073 540.300 1077.500 543.500 L1080.800 546.200 Q1084 548.800 1087.200 545.500 L1135.500 496 Q1140.300 491.200 1144.600 495.400 L1150 501.200 L1177 516.400 Q1179.600 517.900 1182.500 517.400 L1220.500 511 Q1223.300 510.500 1226 511.500 L1232.300 513.800 V678 H439.600 Z"/>
<path id="line" fill="none" stroke="#2f54d8" stroke-width="2.200" stroke-linejoin="round" stroke-linecap="round" d="M439.600 575 L454 563.600 Q456 562 458.200 562.800 L471.500 567.400 Q474 568.200 476.200 566.600 L518.600 537.400 Q521 535.700 523.200 537.300 L536.200 546.300 Q538.600 548 541.200 546.900 L569 535.500 Q571.500 534.500 574 534.800 L619 540.700 Q622 541.100 625 539.700 L692.500 508.800 Q695.200 507.600 697.800 509 L805.800 567 Q808.700 568.500 811.600 567.400 L839 557.400 Q841.800 556.400 844.500 557 L854 559.200 Q856.700 559.800 859 558.400 L867.500 553.500 Q870 552 872.800 552.200 L930.500 556.100 Q933.800 556.300 936.500 557.800 L961 570.600 Q964 572.200 967 571.100 L982 565.900 Q984.600 565 985.300 562.400 L989.500 548 Q991.200 542.300 995.600 542.400 Q999.500 542.500 1002.600 547 L1030.500 583.500 Q1034.400 588.600 1038.200 583.500 L1068.800 545.500 Q1073 540.300 1077.500 543.500 L1080.800 546.200 Q1084 548.800 1087.200 545.500 L1135.500 496 Q1140.300 491.200 1144.600 495.400 L1150 501.200 L1177 516.400 Q1179.600 517.900 1182.500 517.400 L1220.500 511 Q1223.300 510.500 1226 511.500 L1232.300 513.800"/>
<path d="M1150 507V677.500" stroke="#0f1420" stroke-width="2" stroke-dasharray="5.200 2.600"/>
<circle cx="1150" cy="501.200" r="7.200" fill="#0f1420"/><circle cx="1150" cy="501.200" r="2.500" fill="#4a6cf0"/>
</svg>
<!-- tooltip -->
<div class="abs" style="left:1090px;top:457px;width:115.500px;height:30.500px;border-radius:5px;background:#0f1420;box-shadow:0 6px 14px rgba(15,20,32,.12)"></div>
<svg style="left:1142px;top:487px" width="11" height="5" viewBox="0 0 11 5"><path d="M0 0H11L5.500 4.500Z" fill="#0f1420"/></svg>
<span class="t m" id="h_tip" style="left:1097px;top:478px;font-size:14px;color:#fff">Bitcoin : $98,021</span>
<!-- y labels -->
<span class="t lg" id="y5" style="left:387px;top:508.200px;font-size:16.500px">$50k</span>
<span class="t lg" id="y4" style="left:387px;top:544.200px;font-size:16.500px">$40k</span>
<span class="t lg" id="y3" style="left:387px;top:579.600px;font-size:16.500px">$30k</span>
<span class="t lg" id="y2" style="left:387px;top:615.400px;font-size:16.500px">$20k</span>
<span class="t lg" id="y1" style="left:389px;top:651px;font-size:16.500px">$10k</span>
<!-- x labels -->
<span class="t lg" id="x16" style="left:434px;top:708px;font-size:15.500px">Oct 16</span>
<span class="t lg" id="x17" style="left:549px;top:708px;font-size:15.500px">Oct 17</span>
<span class="t lg" id="x18" style="left:663px;top:708px;font-size:15.500px">Oct 18</span>
<span class="t lg" id="x19" style="left:778px;top:708px;font-size:15.500px">Oct 19</span>
<span class="t lg" id="x20" style="left:890px;top:708px;font-size:15.500px">Oct 20</span>
<span class="t lg" id="x21" style="left:1008px;top:708px;font-size:15.500px">Oct 21</span>
<span class="t lg" id="x22" style="left:1121px;top:708px;font-size:15.500px">Oct 22</span>

<div class="abs" style="left:366.500px;top:932px;width:866.500px;height:159px;border-radius:14px;border:1px solid #e1e4e9;background:#fff;overflow:hidden">
  <div class="abs" style="left:0;top:0;width:100%;height:34.500px;background:#eaf0fd;border-bottom:1px solid #dbe1ec"></div>
</div>
<svg style="left:381.500px;top:944px" width="15" height="12" viewBox="0 0 15 12"><path d="M13.500 3.600H5.200a3.700 3.700 0 0 0 0 7.400H7" fill="none" stroke="#3b5bdb" stroke-width="1.600" stroke-linecap="round"/><path d="M10.600 .4 L14.600 3.600 L10.600 6.800Z" fill="#3b5bdb"/></svg>
<span class="t" id="i_intro" style="left:404.500px;top:955.400px;font-size:13.500px;color:#3b5bdb;-webkit-text-stroke:.2px #3b5bdb">Introduction: Understanding Mental Health</span>
<svg style="left:1205px;top:943.500px" width="12.500" height="12.500" viewBox="0 0 12 12"><path d="M1 1 L11 11M11 1 L1 11" fill="none" stroke="#3b5bdb" stroke-width="1.300" stroke-linecap="round"/></svg>
<!-- speed toggle -->
<div class="abs" style="left:380px;top:1048.800px;width:71.500px;height:27.200px;border-radius:14px;background:linear-gradient(90deg,#5f7be9 0%,#6a86ec 22%,#a9b8f3 52%,#e9ecfb 74%,rgba(255,255,255,0) 100%)"></div>
<div class="abs" style="left:383px;top:1051.800px;width:51.500px;height:21.200px;border-radius:11px;background:#fff"></div>
<div class="abs" style="left:434px;top:1051.800px;width:17px;height:21.200px;border-radius:0 11px 11px 0;background:linear-gradient(90deg,rgba(255,255,255,.0),rgba(255,255,255,.75))"></div>
<span class="t" id="i_speed" style="left:391px;top:1066.500px;font-size:12.500px;color:#3c4350">Speed</span>
<div class="abs" style="left:462.300px;top:1051.500px;width:1px;height:22px;background:#e3e5e9"></div>
<svg style="left:475px;top:1053px" width="19" height="19" viewBox="0 0 19 19" fill="none" stroke="#868c97" stroke-width="1.300" stroke-linecap="round" stroke-linejoin="round"><rect x="1" y="1" width="17" height="17" rx="4.500"/><path d="M5.800 13.800 L13.200 5"/></svg>
<svg style="left:509.500px;top:1051.500px" width="17" height="21" viewBox="0 0 17 21" fill="none" stroke="#868c97" stroke-width="1.300" stroke-linecap="round" stroke-linejoin="round"><g transform="rotate(22 8.500 10.500)"><rect x="4.200" y="1.400" width="8.600" height="11.400" rx="4.300"/><rect x="4.200" y="8.200" width="8.600" height="11.400" rx="4.300"/></g></svg>
<svg style="left:542.500px;top:1053.500px" width="18" height="18" viewBox="0 0 18 18" fill="none" stroke="#868c97" stroke-width="1.300" stroke-linecap="round" stroke-linejoin="round"><path d="M8.400 2.300a6.200 6.200 0 1 0 6.300 6.900"/><path d="M12.400 13 L16.300 16.900"/><path d="M12.300 .8c.3 1.700.9 2.400 2.700 2.700-1.800.3-2.400 1-2.700 2.700-.3-1.700-.9-2.400-2.700-2.700 1.800-.3 2.400-1 2.700-2.700z"/></svg>
<!-- right icons -->
<svg style="left:1121px;top:1052px" width="20" height="20" viewBox="0 0 20 20" fill="none" stroke="#868c97" stroke-width="1.300" stroke-linecap="round" stroke-linejoin="round"><rect x="1" y="1" width="18" height="18" rx="4.500"/><circle cx="14" cy="6" r="1.500"/><path d="M1.200 11.200c4-1.200 8.200.400 10.500 5.600M11.300 15.400c2.200-2.500 5-3.300 7.500-2.300M9.500 18.800c1.500-.2 2.800-1 3.800-2.200"/></svg>
<svg style="left:1154.300px;top:1052px" width="20" height="20" viewBox="0 0 20 20" fill="none" stroke="#868c97" stroke-width="1.300" stroke-linecap="round" stroke-linejoin="round"><rect x="1" y="1" width="18" height="18" rx="4.500"/><path d="M4.600 9V11M7.300 7.500V12.500M10 5.200V14.800M12.700 7.500V12.500M15.400 9V11"/></svg>
<div class="abs" style="left:1187px;top:1051.300px;width:1px;height:22px;background:#e3e5e9"></div>
<svg style="left:1199px;top:1052.500px" width="20" height="20" viewBox="0 0 20 20"><defs><linearGradient id="gs" x1="0" y1="0" x2="1" y2="1"><stop offset="0" stop-color="#7d70ee"/><stop offset="1" stop-color="#5a8df6"/></linearGradient></defs><path d="M1.600 6.900C.5 7.300.5 8.600 1.600 9l7.300 1.700c.3.100.5.300.6.600l1.800 7.200c.3 1.100 1.600 1.100 2 0L18.900 2.600c.3-1-.5-1.800-1.500-1.500Z" fill="url(#gs)"/></svg>


<!-- ===== RIGHT PANEL ===== -->
<div class="panel" id="right" style="left:1289px;top:21px;width:289px;height:1094.500px;overflow:hidden"></div>
<svg style="left:1312px;top:45px" width="25" height="24" viewBox="0 0 25 24" class="icd" stroke-width="1.700"><path d="M14.500 2.600a6 6 0 0 1 5.300-.9l-3.600 3.600.6 2.900 2.900.6 3.600-3.600a6 6 0 0 1-7.900 7.200L6.200 21.600a2.700 2.700 0 0 1-3.800-3.800l9.200-9.200a6 6 0 0 1 2.900-6z"/><circle cx="4.500" cy="19.500" r=".55"/></svg>
<span class="t m" id="r_title" style="left:1347px;top:64.400px;font-size:19.500px">Tools</span>
<svg style="left:1537.500px;top:49.500px" width="14.500" height="14.500" viewBox="0 0 14 14"><path d="M1 1 L13 13M13 1 L1 13" fill="none" stroke="#0f1420" stroke-width="1.600" stroke-linecap="round"/></svg>
<div class="abs" style="left:1312px;top:92.500px;width:243.500px;height:49.500px;border-radius:25px;background:#f8fafc"></div>
<div class="abs" style="left:1315.500px;top:96px;width:118px;height:42px;border-radius:21px;background:#fff"></div>
<span class="t m" id="r_tab1" style="left:1356px;top:122.800px;font-size:15.500px">Tools</span>
<span class="t m" id="r_tab2" style="left:1477px;top:122.800px;font-size:15px">Files</span>
<span class="t" id="r_basic" style="left:1316px;top:183.100px;font-size:13px;color:#a0a5b0">Basic Tools</span>
<div class="abs" style="left:1311px;top:751px;width:245px;height:1px;background:#e5e7eb"></div>
<span class="t" id="r_adv" style="left:1316px;top:793.400px;font-size:13px;color:#a0a5b0">Advanced Tools</span>
<svg style="left:1312.9px;top:212.5px" width="18.600" height="18.600" viewBox="0 0 20 20" class="icd" stroke-width="1.500"><path d="M7 7V4.200A2.700 2.700 0 0 1 9.700 1.500h1.600A2.700 2.700 0 0 1 14 4.200V9a2 2 0 0 1-2 2H8a2 2 0 0 0-2 2v2.800A2.700 2.700 0 0 0 8.700 18.500h1.600A2.700 2.700 0 0 0 13 15.800V13"/><path d="M7 7H4.200A2.700 2.700 0 0 0 1.500 9.700v.6A2.700 2.700 0 0 0 4.200 13H6M13 13h2.800a2.700 2.700 0 0 0 2.700-2.700v-.6A2.700 2.700 0 0 0 15.800 7H14"/><path d="M9.600 4.300h.1M10.300 15.700h.1" stroke-width="1.800"/></svg>
<span class="t m" id="r_py" style="left:1342.500px;top:228.800px;font-size:18px">Python Runner</span>
<div class="tog" style="left:1516.800px;top:212.1px"></div>
<span class="t g" id="r_py0" style="left:1311px;top:260.0px;font-size:20px">Execute Python scripts</span>
<span class="t g" id="r_py1" style="left:1311px;top:289.8px;font-size:20px">directly for quick</span>
<span class="t g" id="r_py2" style="left:1311px;top:319.7px;font-size:20px">calculations or automation.</span>
<svg style="left:1312.500px;top:353.800px" width="19" height="19" viewBox="0 0 20 20" class="icd" stroke-width="1.400"><rect x="1" y="1" width="18" height="18" rx="4.500"/><path d="M12 6.300h3.600M13.800 4.500v3.600M4.600 12.200 L7.400 15M7.400 12.200 L4.600 15M12 12.300h3.600M12 15h3.600M4.400 6.300h3.200"/></svg>
<span class="t m" id="r_ca" style="left:1342.500px;top:369.6px;font-size:18px">Calculator</span>
<div class="tog" style="left:1516.800px;top:353.4px"></div>
<span class="t g" id="r_ca0" style="left:1311px;top:401.0px;font-size:20px">Perform simple to complex</span>
<span class="t g" id="r_ca1" style="left:1311px;top:430.9px;font-size:20px">mathematical operations</span>
<span class="t g" id="r_ca2" style="left:1311px;top:460.5px;font-size:20px">effortlessly.</span>
<svg style="left:1312.9px;top:495.8px" width="18.600" height="18.600" viewBox="0 0 20 20" class="icd" stroke-width="1.500"><rect x="1" y="1.500" width="18" height="17" rx="4.500"/><path d="M1 7H19"/><path d="M4.600 4.300h.1M7.400 4.300h.1" stroke-width="1.700"/></svg>
<span class="t m" id="r_ws" style="left:1342.500px;top:510.9px;font-size:18px">Web Search</span>
<div class="tog" style="left:1516.800px;top:494.7px"></div>
<span class="t g" id="r_ws0" style="left:1311px;top:541.9px;font-size:20px">Find information online with</span>
<span class="t g" id="r_ws1" style="left:1311px;top:572.2px;font-size:20px">instant AI-powered search</span>
<span class="t g" id="r_ws2" style="left:1311px;top:602.0px;font-size:20px">capabilities.</span>
<svg style="left:1312.9px;top:636.7px" width="18.600" height="18.600" viewBox="0 0 20 20" class="icd" stroke-width="1.500"><path d="M4 16.500A3.300 3.300 0 0 1 1 13.200V5a3.500 3.500 0 0 1 3.500-3.500h10A3.500 3.500 0 0 1 18 5v3.200"/><path d="M1 6.200H18"/><rect x="6.500" y="10.500" width="12.500" height="8.500" rx="2.600"/><path d="M11.300 13.300 L10 14.800 L11.300 16.300M14.200 13.300 L15.500 14.800 L14.200 16.300"/></svg>
<span class="t m" id="r_ur" style="left:1342.500px;top:652.5px;font-size:18px">URL Scraper</span>
<div class="tog" style="left:1516.800px;top:635.6px"></div>
<span class="t g" id="r_ur0" style="left:1311px;top:683.2px;font-size:20px">Extract and organize data</span>
<span class="t g" id="r_ur1" style="left:1311px;top:712.7px;font-size:20px">from websites with ease.</span>
<svg style="left:1312.9px;top:823.6px" width="18.600" height="18.600" viewBox="0 0 20 20" class="icd" stroke-width="1.500"><path d="M3.200 5.200A8.300 8.300 0 0 1 17.800 12.800"/><path d="M16.800 14.800A8.300 8.300 0 0 1 2.200 7.200"/><path d="M14.900 12 L17.900 12.900 L19 10M5.100 8 L2.100 7.100 L1 10"/></svg>
<span class="t m" id="r_fc" style="left:1342.500px;top:838.700px;font-size:18px">File Converter</span>
<div class="tog" style="left:1516.800px;top:822.5px"></div>
<span class="t g" id="r_fc0" style="left:1311px;top:869.8px;font-size:20px">Execute Python scripts</span>
<span class="t g" id="r_fc1" style="left:1311px;top:899.2px;font-size:20px">directly for quick</span>
<span class="t g" id="r_fc2" style="left:1311px;top:928.9px;font-size:20px">calculations or automation.</span>
<svg style="left:1312.9px;top:968.7px" width="18.600" height="18.600" viewBox="0 0 20 20" class="icd" stroke-width="1.500"><rect x="1" y="1" width="18" height="18" rx="4.500"/><path d="M5.600 6.600h8.800M10 4.800v1.800M12.800 6.600c-.8 3.600-3.300 6.400-6.700 8M7.400 9.600c1.200 2.400 3.200 4.200 5.900 5.200"/></svg>
<span class="t m" id="r_lt" style="left:1342.500px;top:984.400px;font-size:18px">Language Translator</span>
<div class="tog" style="left:1516.800px;top:967.6px"></div>
<span class="t g" id="r_lt0" style="left:1311px;top:1015.7px;font-size:20px">Perform simple to complex</span>
<span class="t g" id="r_lt1" style="left:1311px;top:1045.4px;font-size:20px">mathematical operations</span>
<span class="t g" id="r_lt2" style="left:1311px;top:1075.2px;font-size:20px">effortlessly.</span>
<div class="abs" style="left:1289px;top:21px;width:289px;height:1094.500px;border-radius:27px;overflow:hidden;pointer-events:none"><div class="tog" style="left:227.800px;top:1092px"></div><svg style="left:23.900px;top:1093px" width="18.600" height="18.600" viewBox="0 0 20 20" class="icd" stroke-width="1.500"><rect x="1" y="1" width="18" height="18" rx="4.500"/></svg></div>

</body>
</html>
